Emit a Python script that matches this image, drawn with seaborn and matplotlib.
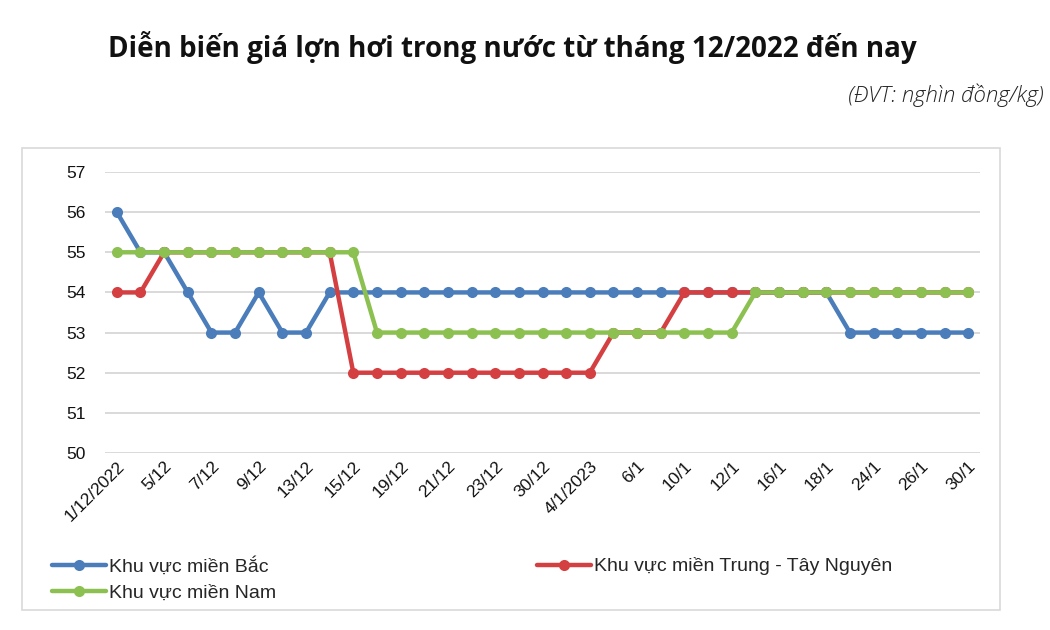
import matplotlib
matplotlib.use("Agg")
import matplotlib.pyplot as plt
import seaborn as sns
import pandas as pd
import numpy as np
from matplotlib.patches import Rectangle

# ---- data ----
tick_labels = ["1/12/2022", "5/12", "7/12", "9/12", "13/12", "15/12", "19/12", "21/12",
               "23/12", "30/12", "4/1/2023", "6/1", "10/1", "12/1", "16/1", "18/1",
               "24/1", "26/1", "30/1"]
bac = [56, 55, 55, 54, 53, 53, 54, 53, 53, 54, 54, 54, 54, 54, 54, 54, 54, 54, 54, 54,
       54, 54, 54, 54, 54, 54, 54, 54, 54, 54, 54, 53, 53, 53, 53, 53, 53]
trung = [54, 54, 55, 55, 55, 55, 55, 55, 55, 55, 52, 52, 52, 52, 52, 52, 52, 52, 52, 52,
         52, 53, 53, 53, 54, 54, 54, 54, 54, 54, 54, 54, 54, 54, 54, 54, 54]
nam = [55, 55, 55, 55, 55, 55, 55, 55, 55, 55, 55, 53, 53, 53, 53, 53, 53, 53, 53, 53,
       53, 53, 53, 53, 53, 53, 53, 54, 54, 54, 54, 54, 54, 54, 54, 54, 54]
series_names = ["Khu vực miền Bắc", "Khu vực miền Trung - Tây Nguyên", "Khu vực miền Nam"]
colors = ["#4A7DB9", "#D44042", "#8CC152"]

sns.set_theme(style="white")
plt.rcParams["font.family"] = ["Liberation Sans", "DejaVu Sans"]

fig = plt.figure(figsize=(10.5, 6.3), dpi=100)
ax = fig.add_axes([105/1050, 1-453/630, (980-105)/1050, (453-172)/630])

x = np.arange(len(bac))
for name, vals, c in zip(series_names, [bac, trung, nam], colors):
    df = pd.DataFrame({"x": x, "y": vals})
    sns.lineplot(data=df, x="x", y="y", ax=ax, color=c, linewidth=3.2,
                 marker="o", markersize=8, markeredgewidth=0, label=name)

ax.set_xlim(-0.5, len(bac) - 0.5)
ax.set_ylim(50, 57)
ax.set_yticks(range(50, 58))
ax.set_xticks(x[::2])
ax.set_xticklabels(tick_labels, rotation=45, ha="right", rotation_mode="anchor",
                   fontsize=12.5, color="#111111")
ax.tick_params(axis="y", labelsize=12.5, labelcolor="#111111", pad=14, length=0)
ax.tick_params(axis="x", pad=4, length=0)
ax.set_xlabel("")
ax.set_ylabel("")
for s in ax.spines.values():
    s.set_visible(False)
ax.grid(axis="y", color="#D9D9D9", linewidth=1.4)
ax.set_axisbelow(True)

# legend (row-major order)
h, l = ax.get_legend_handles_labels()
ax.get_legend().remove()
order = [0, 2, 1]
fig.legend([h[i] for i in order], [l[i] for i in order], ncol=2, frameon=False,
           loc="upper left", bbox_to_anchor=(42/1050, 1-547/630), fontsize=14,
           handlelength=2.8, handletextpad=0.15, columnspacing=13.4, labelspacing=0.45,
           borderpad=0)

# outer chart border
fig.patches.append(Rectangle((22/1050, 1-610/630), (1000-22)/1050, (610-148)/630,
                             transform=fig.transFigure, fill=False,
                             edgecolor="#D9D9D9", linewidth=1.2))

fig.text(512/1050, 1-47/630, "Diễn biến giá lợn hơi trong nước từ tháng 12/2022 đến nay",
         ha="center", va="center", fontsize=20, fontweight="bold",
         family=["Open Sans", "DejaVu Sans"], color="#111111")
fig.text(1044/1050, 1-95/630, "(ĐVT: nghìn đồng/kg)", ha="right", va="center",
         fontsize=16, style="italic", fontweight="light",
         family=["Open Sans", "DejaVu Sans"], color="#222222")

fig.savefig("out.png", dpi=100)
